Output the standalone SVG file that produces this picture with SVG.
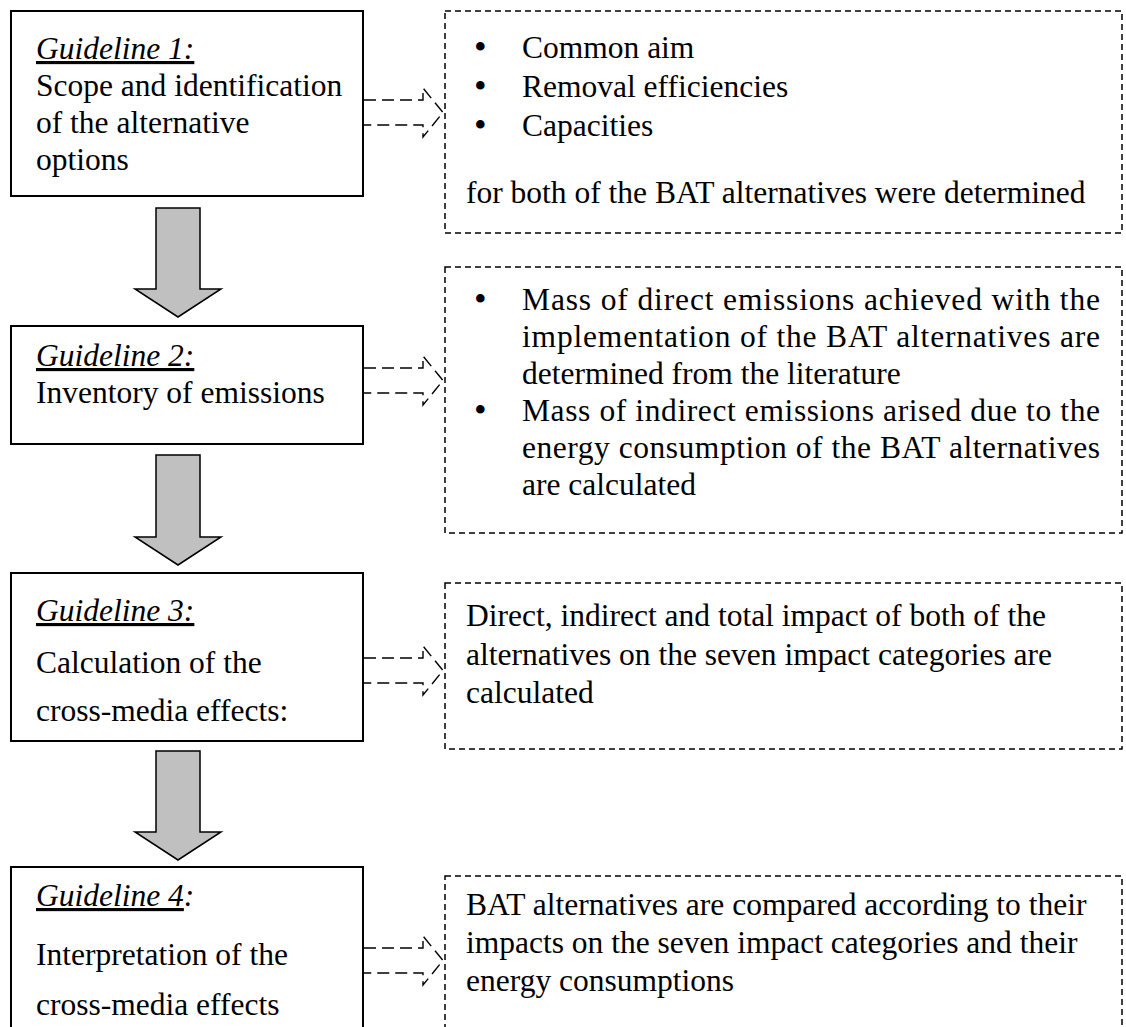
<svg xmlns="http://www.w3.org/2000/svg" width="1126" height="1027" viewBox="0 0 1126 1027">
<style>
text{font-family:"Liberation Serif","Times New Roman",serif;font-size:31.5px;fill:#000}
.b{font-size:36px}
.box{fill:#fff;stroke:#000;stroke-width:2}
.dbox{fill:none;stroke:#000;stroke-width:1.5;stroke-dasharray:6 4}
.darr{fill:none;stroke:#000;stroke-width:1.4;stroke-dasharray:12 6}
.garr{fill:#c0c0c0;stroke:#000;stroke-width:1.5;stroke-linejoin:miter}
.it{font-style:italic}
.u{text-decoration:underline}
</style>
<rect width="1126" height="1027" fill="#fff"/>
<g id="node-g1">
<rect class="box" x="11" y="11" width="352" height="185"/>
<text x="36" y="59"><tspan class="it u">Guideline 1:</tspan></text>
<text x="36" y="96">Scope and identification</text>
<text x="36" y="133">of the alternative</text>
<text x="36" y="170">options</text>
</g>
<g id="node-d1">
<rect class="dbox" x="445" y="11" width="677" height="222"/>
<text class="b" x="474" y="59">•</text><text x="522" y="58">Common aim</text>
<text class="b" x="474" y="98">•</text><text x="522" y="97">Removal efficiencies</text>
<text class="b" x="474" y="137">•</text><text x="522" y="136">Capacities</text>
<text x="466" y="203">for both of the BAT alternatives were determined</text>
</g>
<g id="node-g2">
<rect class="box" x="11" y="326" width="352" height="118"/>
<text x="36" y="366"><tspan class="it u">Guideline 2:</tspan></text>
<text x="36" y="403">Inventory of emissions</text>
</g>
<g id="node-d2">
<rect class="dbox" x="445" y="267" width="677" height="266"/>
<text class="b" x="474" y="311">•</text>
<text x="522" y="310" textLength="578" lengthAdjust="spacing">Mass of direct emissions achieved with the</text>
<text x="522" y="347" textLength="578" lengthAdjust="spacing">implementation of the BAT alternatives are</text>
<text x="522" y="384">determined from the literature</text>
<text class="b" x="474" y="422">•</text>
<text x="522" y="421" textLength="578" lengthAdjust="spacing">Mass of indirect emissions arised due to the</text>
<text x="522" y="458" textLength="578" lengthAdjust="spacing">energy consumption of the BAT alternatives</text>
<text x="522" y="495">are calculated</text>
</g>
<g id="node-g3">
<rect class="box" x="11" y="573" width="352" height="168"/>
<text x="36" y="621"><tspan class="it u">Guideline 3:</tspan></text>
<text x="36" y="673">Calculation of the</text>
<text x="36" y="721">cross-media effects:</text>
</g>
<g id="node-d3">
<rect class="dbox" x="445" y="583" width="677" height="166"/>
<text x="466" y="626">Direct, indirect and total impact of both of the</text>
<text x="466" y="665">alternatives on the seven impact categories are</text>
<text x="466" y="703">calculated</text>
</g>
<g id="node-g4">
<rect class="box" x="11" y="867" width="352" height="180"/>
<text x="36" y="906"><tspan class="it u">Guideline 4</tspan><tspan class="it">:</tspan></text>
<text x="36" y="965">Interpretation of the</text>
<text x="36" y="1015">cross-media effects</text>
</g>
<g id="node-d4">
<rect class="dbox" x="445" y="876" width="677" height="180"/>
<text x="466" y="915">BAT alternatives are compared according to their</text>
<text x="466" y="953">impacts on the seven impact categories and their</text>
<text x="466" y="991">energy consumptions</text>
</g>
<g id="connectors">
<path class="garr" d="M156,208 H200 V289 H221 L178,317 L135,289 H156 Z"/>
<path class="garr" d="M156,455 H200 V537 H221 L178,565 L135,537 H156 Z"/>
<path class="garr" d="M156,751 H200 V832 H221 L178,860 L135,832 H156 Z"/>
<path class="darr" d="M364,100 H423 V88 L443,112.5 L423,137 V125 H364"/>
<path class="darr" d="M364,368 H423 V356 L443,380.5 L423,405 V393 H364"/>
<path class="darr" d="M364,658 H423 V646 L443,670.5 L423,695 V683 H364"/>
<path class="darr" d="M364,948 H423 V936 L443,960.5 L423,985 V973 H364"/>
</g>
</svg>
